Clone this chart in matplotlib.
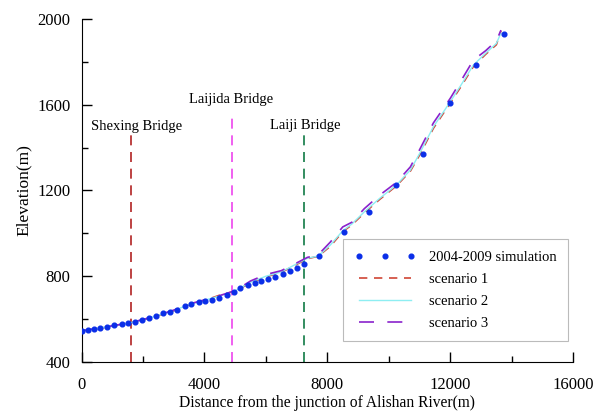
import matplotlib
matplotlib.use("Agg")
import matplotlib.pyplot as plt
from matplotlib.ticker import MultipleLocator

plt.rcParams['font.family'] = ['Liberation Serif', 'DejaVu Serif']

# simulated bed profile 2004-2009 (dots)
sim_dist = [0, 218, 390, 607, 835, 1063, 1301, 1528, 1756, 1973, 2211, 2439,
            2656, 2894, 3112, 3360, 3577, 3816, 4033, 4250, 4488, 4737, 4965,
            5171, 5408, 5636, 5854, 6072, 6309, 6546, 6774, 7001, 7242, 7740,
            8543, 9366, 10244, 11112, 11990, 12846, 13733]
sim_elev = [545, 551, 554, 559, 565, 571, 577, 583, 588, 596, 605, 615,
            627, 635, 643, 660, 672, 679, 685, 689, 700, 711, 727,
            744, 759, 770, 778, 786, 798, 810, 823, 840, 856, 896,
            1006, 1101, 1226, 1372, 1609, 1785, 1928]

# scenario profiles
sc_dist = [0, 500, 1000, 1500, 2000, 2500, 3000, 3500, 4000, 4500, 5000,
           5500, 6000, 6500, 7000, 7350, 7700, 8100, 8500, 8800, 9200, 9700,
           10250, 10700, 11000, 11450, 12000, 12350, 12750, 13150, 13500, 13650]
sc1 = [545, 555, 567, 580, 596, 617, 639, 667, 687, 712, 730,
       770, 797, 818, 855, 882, 893, 940, 1008, 1040, 1095, 1158,
       1222, 1290, 1365, 1490, 1608, 1685, 1778, 1835, 1880, 1945]
sc2 = [546, 556, 568, 580, 597, 618, 640, 668, 688, 708, 732,
       772, 800, 820, 858, 884, 894, 946, 1012, 1044, 1100, 1163,
       1226, 1295, 1372, 1497, 1614, 1692, 1785, 1840, 1886, 1935]
sc3 = [546, 557, 569, 581, 598, 619, 642, 670, 690, 710, 733,
       778, 808, 826, 862, 888, 900, 960, 1030, 1052, 1115, 1178,
       1238, 1310, 1390, 1515, 1630, 1712, 1808, 1852, 1898, 1948]

# bridges: name, position, top of marker line, label position
bridge_names = ["Shexing Bridge", "Laijida Bridge", "Laiji Bridge"]
bridge_x = [1600, 4900, 7250]
bridge_top = [1470, 1550, 1470]
bridge_colors = ["#b22222", "#ee44ee", "#117a45"]
label_x = [1800, 4880, 7280]
label_y = [1500, 1625, 1505]

fig = plt.figure(figsize=(6.04, 4.13), dpi=100)
ax = fig.add_axes([0.135, 0.1235, 0.814, 0.8305])

for bx, top, c in zip(bridge_x, bridge_top, bridge_colors):
    ax.plot([bx, bx], [400, top], color=c, lw=1.2, dashes=(6, 4))
for name, lx, ly in zip(bridge_names, label_x, label_y):
    ax.text(lx, ly, name, ha='center', va='center', fontsize=10.5)

ax.plot(sim_dist, sim_elev, ls='none', marker='o', ms=3.4, color='#0a2ee8',
        mec='#0a2ee8', label='2004-2009 simulation', zorder=5)
ax.plot(sc_dist, sc1, color='#d04535', lw=1.2, dashes=(5, 4), label='scenario 1')
ax.plot(sc_dist, sc2, color='#8eeef2', lw=1.0, label='scenario 2')
ax.plot(sc_dist, sc3, color='#8a22cc', lw=1.2, dashes=(9, 8), label='scenario 3')

ax.set_xlim(0, 16000)
ax.set_ylim(400, 2000)
ax.xaxis.set_major_locator(MultipleLocator(4000))
ax.xaxis.set_minor_locator(MultipleLocator(2000))
ax.yaxis.set_major_locator(MultipleLocator(400))
ax.yaxis.set_minor_locator(MultipleLocator(200))
ax.tick_params(which='major', direction='in', length=7, width=1, labelsize=12)
ax.tick_params(axis='x', which='major', pad=11)
ax.tick_params(axis='y', which='major', pad=8)
ax.tick_params(which='minor', direction='in', length=4, width=1)
ax.spines['top'].set_visible(False)
ax.spines['right'].set_visible(False)

ax.set_xlabel("Distance from the junction of Alishan River(m)", fontsize=11.2, labelpad=1)
ax.set_ylabel("Elevation(m)", fontsize=12.5)

leg = ax.legend(loc='lower right', bbox_to_anchor=(0.99, 0.06), fontsize=10.5,
                numpoints=3, handlelength=4.2, handletextpad=0.9, fancybox=False,
                framealpha=1, edgecolor='#bbbbbb', borderpad=0.8, labelspacing=0.6,
                borderaxespad=0)
leg.get_frame().set_linewidth(0.8)

fig.savefig("out.png", dpi=100)
